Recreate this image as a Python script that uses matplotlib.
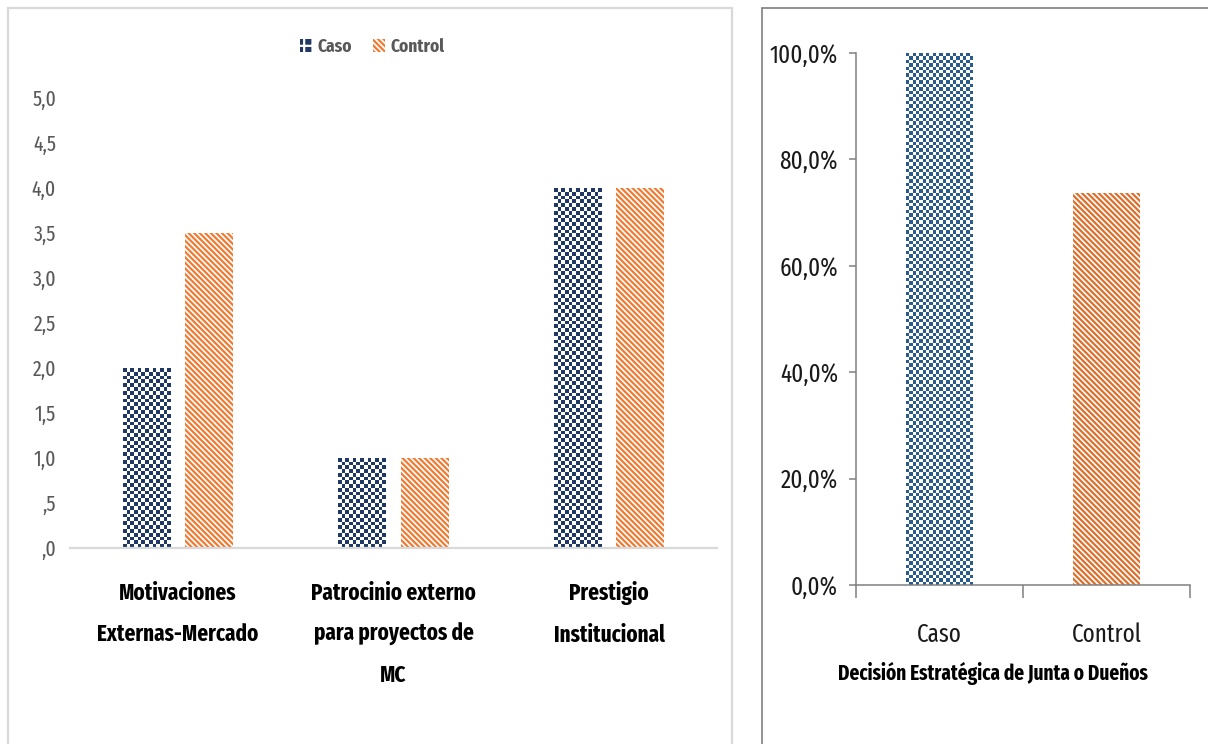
import numpy as np
import matplotlib
matplotlib.use("Agg")
import matplotlib.pyplot as plt
from matplotlib.patches import Patch, Rectangle

# ---- data ----
categories = ["Motivaciones\nExternas-Mercado",
              "Patrocinio externo\npara proyectos de\nMC",
              "Prestigio\nInstitucional"]
caso_vals = [2.0, 1.0, 4.0]
control_vals = [3.5, 1.0, 4.0]
left_yticks = [0.0, 0.5, 1.0, 1.5, 2.0, 2.5, 3.0, 3.5, 4.0, 4.5, 5.0]

groups = ["Caso", "Control"]
decision_vals = [1.0, 0.737]
right_yticks = [0.0, 0.2, 0.4, 0.6, 0.8, 1.0]
right_xlabel = "Decisión Estratégica de Junta o Dueños"

# ---- styling ----
FONT = ["Fira Sans Extra Condensed", "DejaVu Sans"]
plt.rcParams["font.family"] = FONT
plt.rcParams["hatch.linewidth"] = 1.6

NAVY_L = "#1f3864"
NAVY_R = "#2b5b8a"
ORANGE_L = "#ef7b35"
ORANGE_R = "#de6f2c"
GRAY_TXT = "#595959"
STRIPES = "\\" * 6

W, H = 1208, 744
fig = plt.figure(figsize=(W / 100, H / 100), dpi=100)


def checker_fill(ax, bar, color, cell=3.8):
    """Paint a checkerboard texture inside a bar."""
    bb = bar.get_window_extent()
    nx = max(1, int(round(bb.width / cell)))
    ny = max(1, int(round(bb.height / cell)))
    jj, ii = np.meshgrid(np.arange(nx), np.arange(ny))
    mask = (ii + jj) % 2 == 0
    rgb = np.array(matplotlib.colors.to_rgb(color))
    img = np.ones((ny, nx, 3))
    img[mask] = rgb
    x0 = bar.get_x()
    x1 = x0 + bar.get_width()
    y0 = bar.get_y()
    y1 = y0 + bar.get_height()
    im = ax.imshow(img, extent=(x0, x1, y0, y1), origin="upper",
                   interpolation="nearest", aspect="auto", zorder=2)
    im.set_clip_path(bar)


# ---- panel frames ----
fig.add_artist(Rectangle((8 / W, -0.05), (732 - 8) / W, 1 - 8 / H + 0.05,
                         transform=fig.transFigure, fill=False,
                         edgecolor="#d9d9d9", linewidth=1.6))
fig.add_artist(Rectangle((762 / W, -0.05), 0.5, 1 - 8 / H + 0.05,
                         transform=fig.transFigure, fill=False,
                         edgecolor="#7f7f7f", linewidth=1.2))

# ---- left chart ----
ax1 = fig.add_axes([70 / W, 196 / H, 647 / W, 450 / H])
x = np.arange(len(categories))
bw = 0.222
off = 0.145
ax1.set_xlim(-0.5, len(categories) - 0.5)
ax1.set_ylim(0, 5.0)
b_caso = ax1.bar(x - off, caso_vals, bw, color="none", linewidth=0, zorder=2)
b_ctrl = ax1.bar(x + off, control_vals, bw, facecolor="white",
                 edgecolor=ORANGE_L, hatch=STRIPES, linewidth=0, zorder=2)
for b in b_caso:
    checker_fill(ax1, b, NAVY_L)
ax1.set_xlim(-0.5, len(categories) - 0.5)
ax1.set_ylim(0, 5.0)

for s in ["top", "right", "left"]:
    ax1.spines[s].set_visible(False)
ax1.spines["bottom"].set_color("#d9d9d9")
ax1.spines["bottom"].set_linewidth(1.6)
ax1.set_yticks(left_yticks)
ax1.set_yticklabels([f"{v:.1f}".replace(".", ",").lstrip("0") if v < 1
                     else f"{v:.1f}".replace(".", ",") for v in left_yticks])
ax1.tick_params(axis="y", length=0, pad=10, labelsize=15.5, labelcolor=GRAY_TXT)
ax1.set_xticks(x)
ax1.set_xticklabels(categories, fontweight="bold", fontsize=16.5,
                    linespacing=2.0, va="top")
ax1.tick_params(axis="x", length=0, pad=24, labelcolor="black")

leg_handles = [Patch(facecolor=NAVY_L, edgecolor="white", hatch="++",
                     linewidth=0, label="Caso"),
               Patch(facecolor="white", edgecolor=ORANGE_L, hatch=STRIPES,
                     linewidth=0, label="Control")]
fig.legend(handles=leg_handles, loc="center",
           bbox_to_anchor=(372 / W, 1 - 47 / H), ncol=2, frameon=False,
           handlelength=0.65, handleheight=0.7, handletextpad=0.3,
           columnspacing=1.1,
           prop={"family": FONT, "weight": "bold", "size": 13.5},
           labelcolor=GRAY_TXT)

# ---- right chart ----
ax2 = fig.add_axes([856 / W, 159 / H, 334 / W, 532 / H])
xr = np.arange(len(groups))
ax2.set_xlim(-0.5, len(groups) - 0.5)
ax2.set_ylim(0, 1.0)
bars_r = ax2.bar(xr, decision_vals, 0.4, color="none", linewidth=0, zorder=2)
checker_fill(ax2, bars_r[0], NAVY_R, cell=3.4)
bars_r[1].set_facecolor("white")
bars_r[1].set_edgecolor(ORANGE_R)
bars_r[1].set_hatch(STRIPES)
ax2.set_xlim(-0.5, len(groups) - 0.5)
ax2.set_ylim(0, 1.0)

for s in ["top", "right"]:
    ax2.spines[s].set_visible(False)
for s in ["left", "bottom"]:
    ax2.spines[s].set_color("#808080")
    ax2.spines[s].set_linewidth(1.1)
ax2.set_yticks(right_yticks)
ax2.set_yticklabels([f"{v * 100:.1f}%".replace(".", ",") for v in right_yticks])
ax2.tick_params(axis="y", length=5, width=1.1, color="#808080", pad=8,
                labelsize=18, labelcolor="#1a1a1a")
ax2.set_xticks(xr)
ax2.set_xticklabels(groups)
ax2.tick_params(axis="x", which="major", length=0, pad=27, labelsize=18,
                labelcolor="#1a1a1a")
ax2.set_xticks(np.arange(-0.5, len(groups)), minor=True)
ax2.tick_params(axis="x", which="minor", length=9, width=1.1, color="#808080")
ax2.set_xlabel(right_xlabel, fontweight="bold", fontsize=15)
ax2.xaxis.set_label_coords(0.41, -0.145)

fig.savefig("out.png", dpi=100)
